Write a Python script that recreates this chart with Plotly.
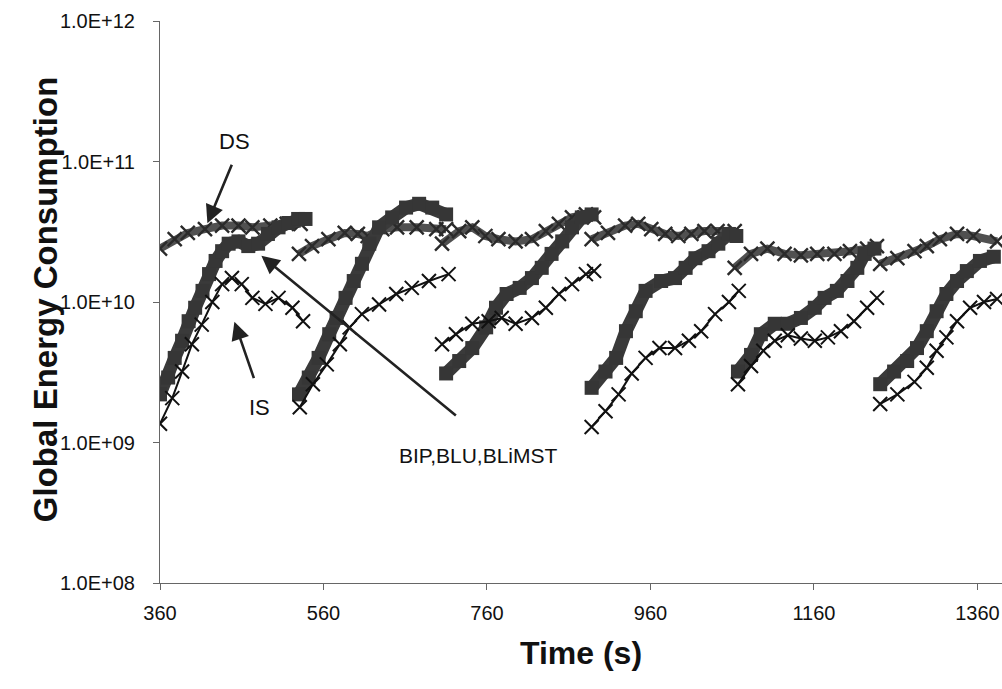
import plotly.graph_objects as go

# ---------------- data (per restart segment) ----------------
bl_time = [
    [360, 370, 378, 387, 395, 403, 412, 420, 428, 436, 444, 456, 468, 480, 492, 505, 517, 529, 538],
    [530, 542, 554, 567, 576, 587, 597, 607, 616, 628, 644, 661, 677, 693, 710],
    [710, 726, 742, 759, 771, 784, 800, 815, 827, 839, 852, 864, 876, 888],
    [888, 905, 918, 930, 942, 954, 973, 990, 1003, 1015, 1031, 1043, 1056, 1065],
    [1067, 1083, 1095, 1112, 1128, 1144, 1161, 1173, 1188, 1201, 1213, 1222, 1234],
    [1241, 1258, 1274, 1286, 1298, 1310, 1322, 1335, 1347, 1363, 1380],
]
bl_energy = [
    [2.2e9, 2.9e9, 4.0e9, 5.3e9, 7.3e9, 9.1e9, 1.2e10, 1.58e10, 1.96e10, 2.3e10, 2.6e10, 2.7e10, 2.5e10, 2.6e10, 3.05e10, 3.4e10, 3.65e10, 3.9e10, 3.9e10],
    [2.2e9, 2.9e9, 4.0e9, 5.9e9, 7.7e9, 1.07e10, 1.41e10, 1.87e10, 2.6e10, 3.4e10, 4.0e10, 4.7e10, 5.0e10, 4.7e10, 4.2e10],
    [3.1e9, 3.8e9, 4.7e9, 6.6e9, 9.1e9, 1.14e10, 1.26e10, 1.48e10, 1.75e10, 2.2e10, 2.7e10, 3.4e10, 4.0e10, 4.2e10],
    [2.45e9, 3.2e9, 4.0e9, 6.2e9, 8.6e9, 1.2e10, 1.41e10, 1.48e10, 1.75e10, 2.05e10, 2.3e10, 2.6e10, 3.05e10, 2.95e10],
    [3.2e9, 4.2e9, 5.9e9, 7.0e9, 7.0e9, 7.7e9, 9.1e9, 1.07e10, 1.2e10, 1.41e10, 1.75e10, 2.2e10, 2.4e10],
    [2.6e9, 3.2e9, 3.8e9, 4.7e9, 6.2e9, 8.6e9, 1.14e10, 1.41e10, 1.66e10, 1.96e10, 2.1e10],
]

ds_time = [
    [360, 378, 394, 415, 436, 456, 473, 495, 515, 532],
    [530, 546, 566, 586, 602, 614, 632, 650, 674, 698, 710],
    [705, 726, 742, 758, 774, 795, 815, 832, 848, 864, 881, 891],
    [888, 908, 929, 945, 961, 978, 994, 1010, 1026, 1042, 1063],
    [1063, 1083, 1103, 1124, 1144, 1164, 1185, 1204, 1225, 1237],
    [1241, 1262, 1283, 1298, 1314, 1335, 1355, 1384],
]
ds_energy = [
    [2.4e10, 2.8e10, 3.1e10, 3.3e10, 3.5e10, 3.5e10, 3.4e10, 3.5e10, 3.6e10, 3.6e10],
    [2.2e10, 2.5e10, 2.8e10, 3.1e10, 3.05e10, 2.95e10, 3.3e10, 3.4e10, 3.4e10, 3.3e10, 3.3e10],
    [2.6e10, 3.2e10, 3.4e10, 2.95e10, 2.8e10, 2.7e10, 2.8e10, 3.2e10, 3.6e10, 4.0e10, 4.2e10, 4.0e10],
    [2.8e10, 3.1e10, 3.5e10, 3.6e10, 3.3e10, 3.05e10, 2.95e10, 3.05e10, 3.2e10, 3.2e10, 3.2e10],
    [1.75e10, 2.2e10, 2.4e10, 2.2e10, 2.15e10, 2.2e10, 2.2e10, 2.3e10, 2.4e10, 2.5e10],
    [1.87e10, 2.05e10, 2.3e10, 2.5e10, 2.8e10, 3.05e10, 2.95e10, 2.7e10],
]

is_time = [
    [360, 375, 387, 399, 411, 424, 436, 448, 460, 473, 489, 505, 522, 535],
    [531, 547, 564, 580, 592, 607, 628, 649, 668, 689, 713],
    [705, 722, 742, 762, 778, 795, 815, 832, 848, 864, 881, 891],
    [888, 905, 921, 937, 954, 971, 990, 1007, 1022, 1039, 1056, 1068],
    [1067, 1083, 1098, 1112, 1128, 1144, 1161, 1177, 1193, 1209, 1225, 1237],
    [1241, 1262, 1283, 1298, 1310, 1322, 1335, 1351, 1368, 1384],
]
is_energy = [
    [1.36e9, 2.07e9, 3.2e9, 5.0e9, 6.9e9, 1.0e10, 1.34e10, 1.48e10, 1.34e10, 1.07e10, 9.7e9, 1.07e10, 9.1e9, 7.3e9],
    [1.78e9, 2.6e9, 3.6e9, 5.0e9, 6.6e9, 8.2e9, 9.6e9, 1.14e10, 1.26e10, 1.41e10, 1.58e10],
    [5.0e9, 5.9e9, 7.0e9, 7.3e9, 7.7e9, 7.0e9, 7.7e9, 9.1e9, 1.14e10, 1.34e10, 1.58e10, 1.66e10],
    [1.29e9, 1.67e9, 2.2e9, 3.1e9, 4.0e9, 4.7e9, 4.7e9, 5.3e9, 6.2e9, 8.2e9, 1.0e10, 1.2e10],
    [2.6e9, 3.5e9, 4.5e9, 5.3e9, 5.8e9, 5.5e9, 5.3e9, 5.6e9, 6.2e9, 7.3e9, 9.1e9, 1.07e10],
    [1.88e9, 2.2e9, 2.7e9, 3.4e9, 4.5e9, 5.6e9, 7.3e9, 9.1e9, 1.0e10, 1.05e10],
]

x_ticks = [360, 560, 760, 960, 1160, 1360]
y_ticks = [1e8, 1e9, 1e10, 1e11, 1e12]
y_tick_text = ["1.0E+08", "1.0E+09", "1.0E+10", "1.0E+11", "1.0E+12"]


def joined(segments):
    out = []
    for i, seg in enumerate(segments):
        if i:
            out.append(None)
        out.extend(seg)
    return out


FONT = "Liberation Sans, Arial, sans-serif"

fig = go.Figure()

fig.add_trace(go.Scatter(
    x=joined(ds_time), y=joined(ds_energy), name="DS",
    mode="lines+markers", connectgaps=False,
    line=dict(color="#505050", width=8),
    marker=dict(symbol="x-thin", size=14, line=dict(color="#2a2a2a", width=2.4)),
))
fig.add_trace(go.Scatter(
    x=joined(bl_time), y=joined(bl_energy), name="BIP,BLU,BLiMST",
    mode="lines+markers", connectgaps=False,
    line=dict(color="#3a3a3a", width=13),
    marker=dict(symbol="square", size=14, color="#363636", line=dict(width=0)),
))
fig.add_trace(go.Scatter(
    x=joined(is_time), y=joined(is_energy), name="IS",
    mode="lines+markers", connectgaps=False,
    line=dict(color="#111111", width=2),
    marker=dict(symbol="x-thin", size=14, line=dict(color="#111111", width=2)),
))

arrow_style = dict(showarrow=True, arrowhead=2, arrowsize=1.4, arrowwidth=2.6,
                   arrowcolor="#222222", axref="pixel", ayref="pixel", text="")
annotations = [
    dict(x=418, y=10.56, ax=25, ay=-60, **arrow_style),
    dict(x=451, y=9.86, ax=20, ay=58, **arrow_style),
    dict(x=484, y=10.33, ax=196, ay=161, **arrow_style),
    dict(x=451, y=11.14, text="DS", showarrow=False, font=dict(size=22, color="#111", family=FONT)),
    dict(x=482, y=9.25, text="IS", showarrow=False, font=dict(size=22, color="#111", family=FONT)),
    dict(x=750, y=8.91, text="BIP,BLU,BLiMST", showarrow=False, font=dict(size=21, color="#111", family=FONT)),
    dict(xref="paper", yref="paper", x=-0.1366, y=0.505, textangle=-90,
         xanchor="center", yanchor="middle",
         text="<b>Global Energy Consumption</b>", showarrow=False,
         font=dict(size=33, color="#111", family=FONT)),
]

fig.update_layout(
    width=1002, height=689,
    margin=dict(l=160, r=0, t=21, b=106),
    paper_bgcolor="white", plot_bgcolor="white",
    showlegend=False,
    font=dict(family=FONT, color="#111111"),
    annotations=annotations,
    xaxis=dict(
        range=[360, 1390], tickvals=x_ticks, ticks="outside", ticklen=6,
        tickcolor="#666", showline=True, linecolor="#666", linewidth=1,
        showgrid=False, zeroline=False, tickfont=dict(size=20, family=FONT),
        ticklabelstandoff=6, ticklabeloverflow="allow",
        title=dict(text="<b>Time (s)</b>", font=dict(size=32, family=FONT), standoff=18),
    ),
    yaxis=dict(
        type="log", range=[8, 12], tickvals=y_ticks, ticktext=y_tick_text,
        ticks="outside", ticklen=6, tickcolor="#666", showline=True,
        linecolor="#666", linewidth=1, showgrid=False, zeroline=False,
        tickfont=dict(size=20, family=FONT), ticklabelstandoff=14,
        ticklabeloverflow="allow",
    ),
)

fig.write_html("out.html")
